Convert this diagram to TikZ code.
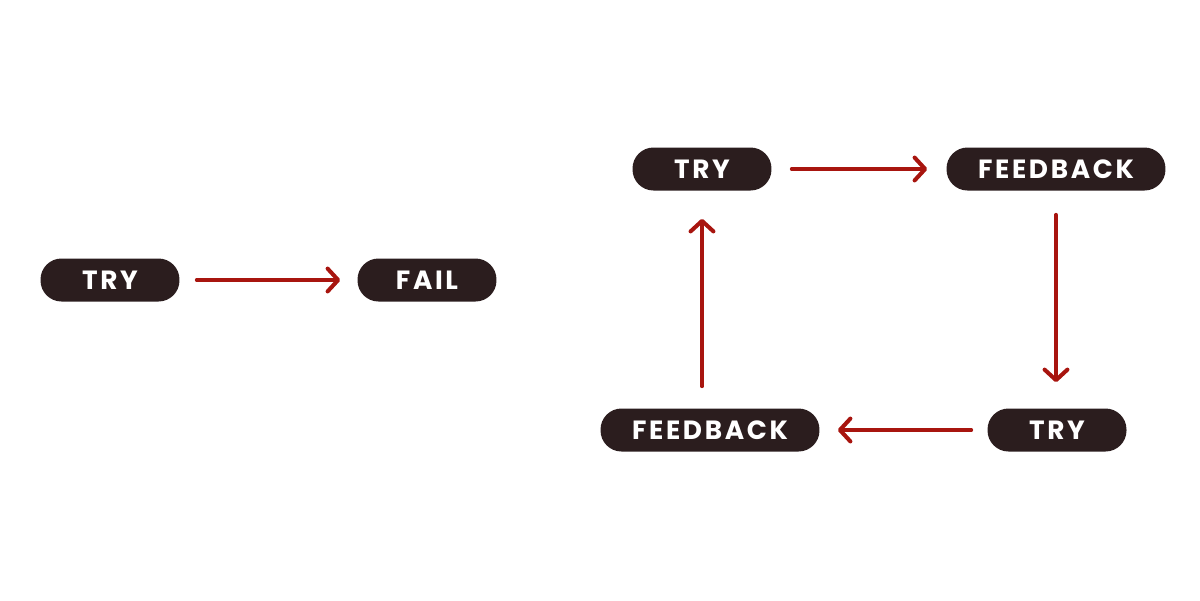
\documentclass[tikz,border=0pt]{standalone}
\usepackage{fontspec}
\setmainfont{Poppins}
\newfontfamily\tagfont[LetterSpace=10]{Poppins}
\usetikzlibrary{arrows.meta}
\definecolor{tagfill}{HTML}{2B1D1E}
\definecolor{arrowred}{HTML}{A8150F}
\begin{document}
\begin{tikzpicture}[x=0.02cm, y=-0.02cm,
    tag/.style={fill=tagfill, text=white, rounded corners=0.42cm, inner sep=0pt,
        minimum height=0.86cm, font=\tagfont\fontsize{15}{15}\selectfont\bfseries},
    short/.style={tag, minimum width=2.78cm},
    long/.style={tag, minimum width=4.38cm},
    flow/.style={draw=arrowred, line width=2.3pt, line cap=round,
        -{Straight Barb[length=6pt, width=13pt, line width=2.3pt, round]}}]
    \useasboundingbox (0,0) rectangle (1200,600);
    % linker kant
    \node[short] (try1) at (110,280) {TRY};
    \node[short] (fail) at (427,280) {FAIL};
    \draw[flow, shorten <=17*0.02cm, shorten >=17*0.02cm] (try1) -- (fail);
    % kringloop
    \node[short] (try2) at (702,169) {TRY};
    \node[long] (fb1) at (1056,169) {FEEDBACK};
    \node[short] (try3) at (1057,430) {TRY};
    \node[long] (fb2) at (710,430) {FEEDBACK};
    \draw[flow, shorten <=20*0.02cm, shorten >=19*0.02cm] (try2) -- (fb1);
    \draw[flow, shorten <=24*0.02cm, shorten >=26*0.02cm] (fb1.south) -- (fb1.south |- try3.north);
    \draw[flow, shorten <=16*0.02cm, shorten >=18*0.02cm] (try3) -- (fb2);
    \draw[flow, shorten <=22*0.02cm, shorten >=28*0.02cm] (try2.south |- fb2.north) -- (try2.south);
\end{tikzpicture}
\end{document}
